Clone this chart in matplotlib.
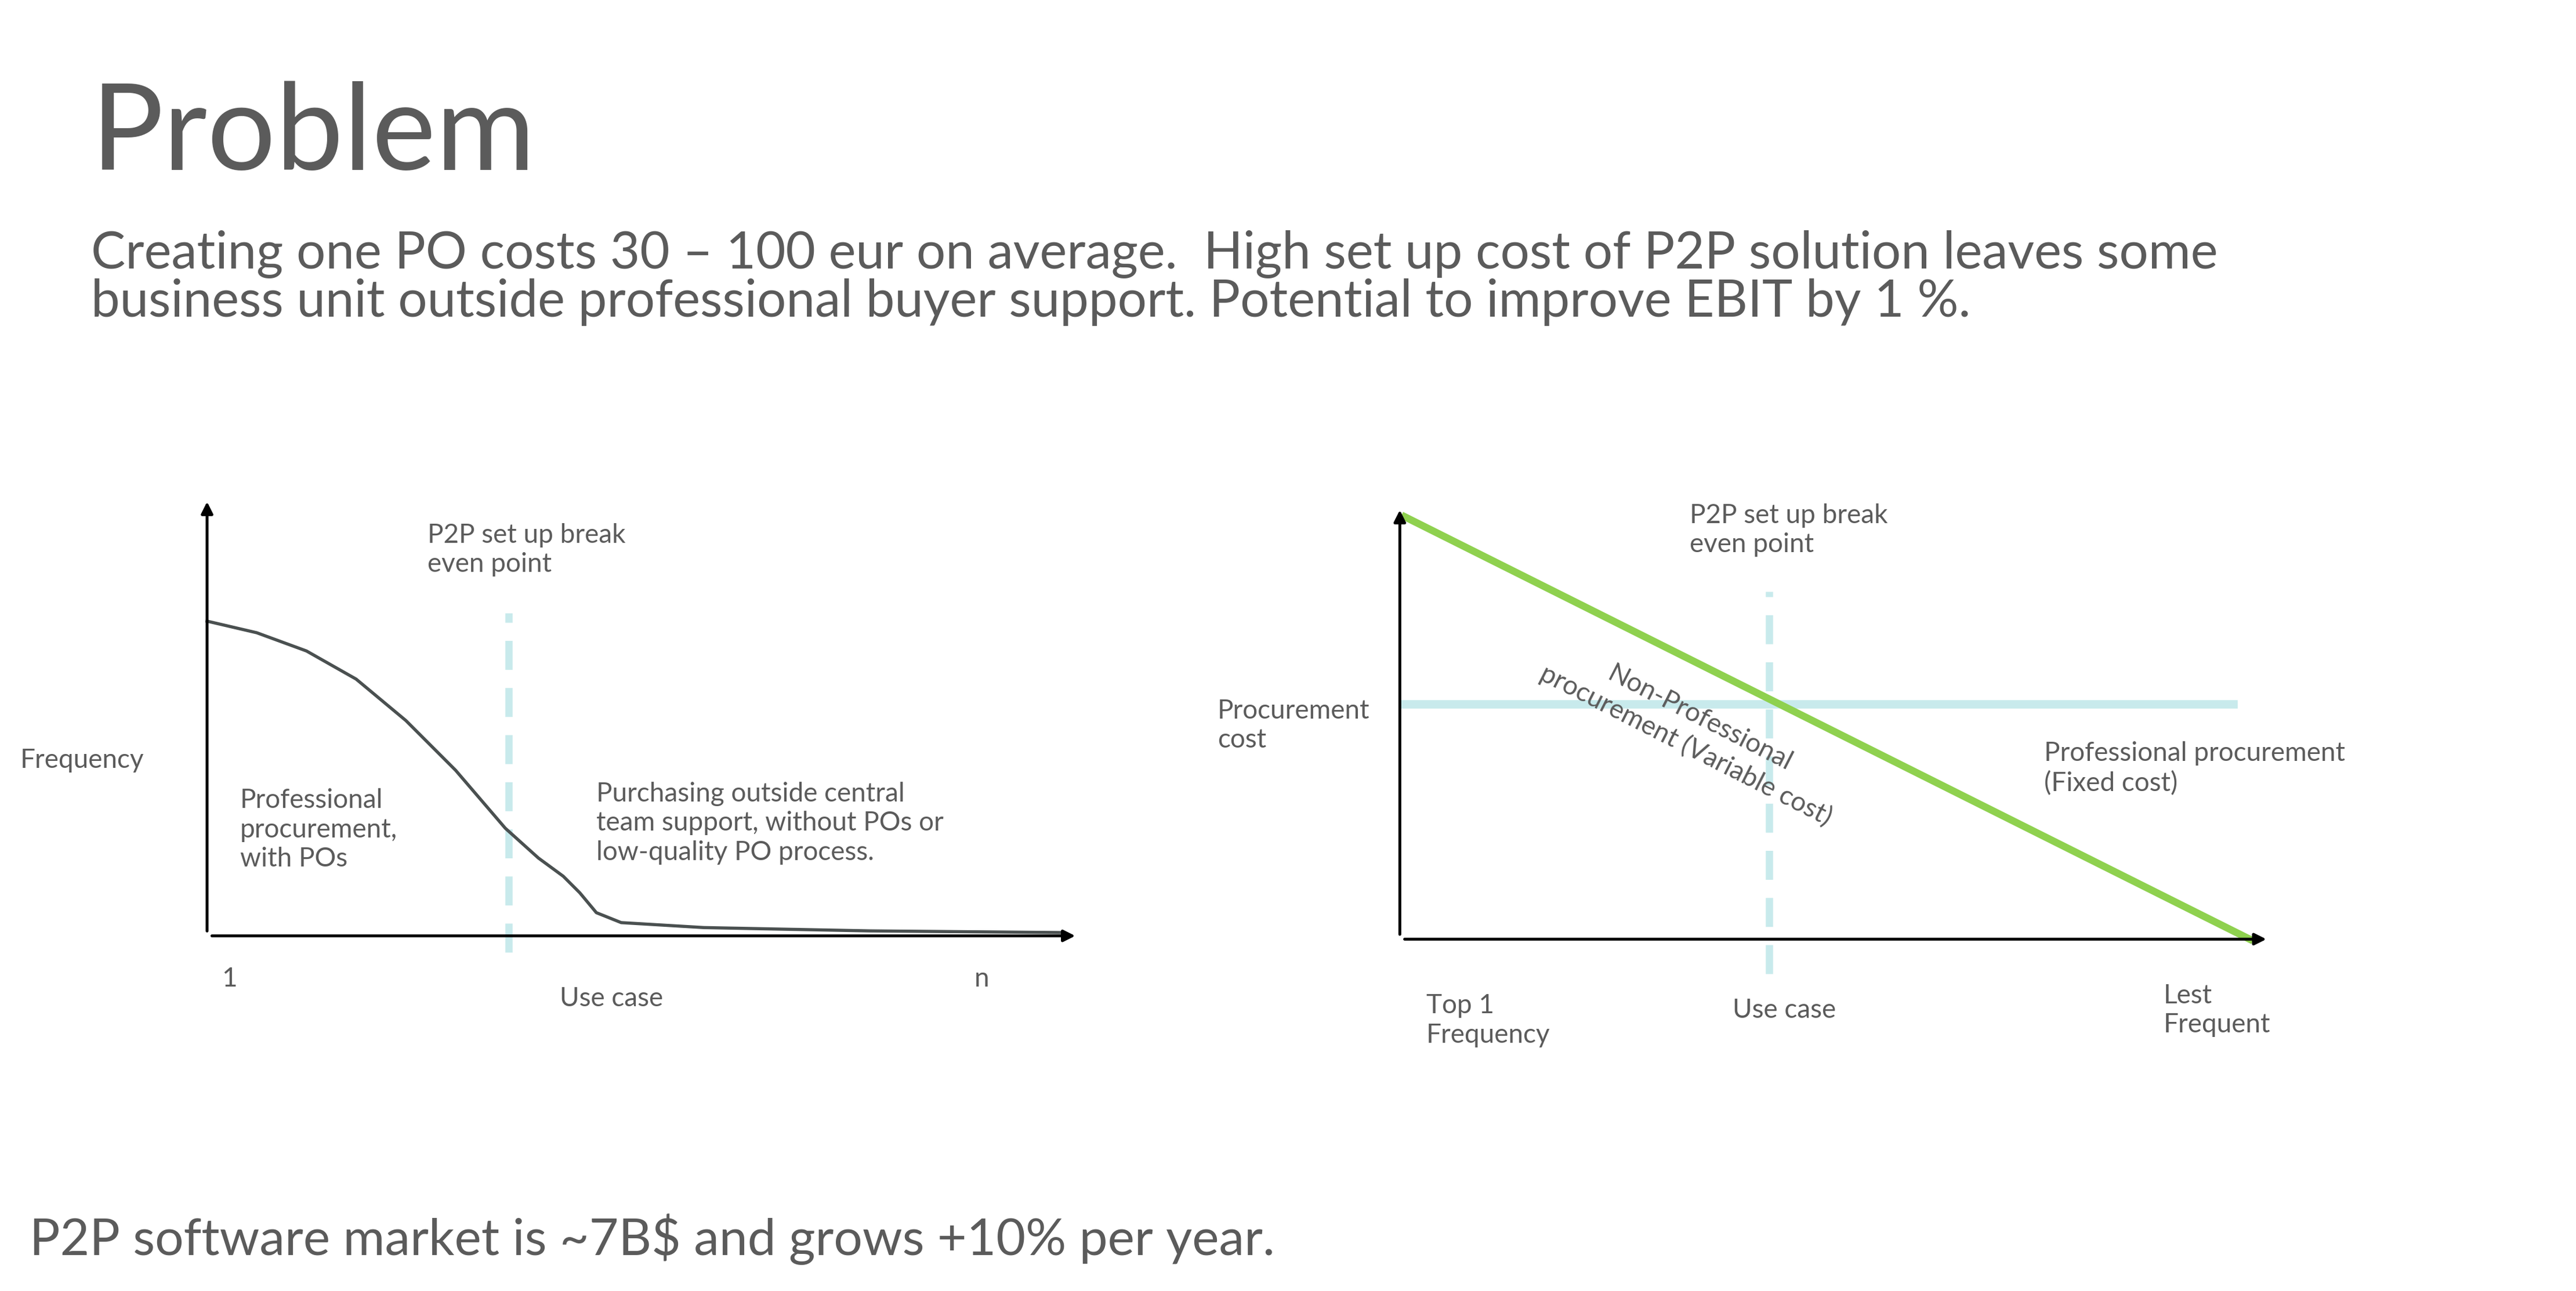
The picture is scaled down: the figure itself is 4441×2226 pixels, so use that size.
import matplotlib.pyplot as plt

plt.rcParams['font.family'] = ['Lato', 'DejaVu Sans']

GREY = '#5b5b5b'
DARK = '#4a5050'
CYAN = '#c8eaec'
GREEN = '#8fd14f'

# left chart: frequency of use cases (long tail)
use_case_pos = [0, 30, 60, 90, 120, 150, 180, 200, 215, 225, 235, 250, 300, 400, 515]
frequency = [190, 183, 172, 155, 130, 100, 65, 47, 36, 26, 14, 8, 5, 3, 2]
left_break_even = 182

# right chart: cost lines
variable_x = [3, 513]
variable_cost = [255, 0]
fixed_x = [3, 503]
fixed_cost = [142, 142]
right_break_even = 223

W, H = 1555, 779.4
fig = plt.figure(figsize=(4441 / 300, 2226 / 300), dpi=300)
bg = fig.add_axes([0, 0, 1, 1])
bg.set_xlim(0, W)
bg.set_ylim(H, 0)
bg.axis('off')
bg.set_zorder(10)
bg.patch.set_alpha(0)


def add_chart(x0, y0, w, h):
    ax = fig.add_axes([x0 / W, 1 - y0 / H, w / W, h / H])
    ax.set_xlim(0, w)
    ax.set_ylim(0, h)
    ax.axis('off')
    arrow = dict(arrowstyle='-|>', color='black', lw=1.2, mutation_scale=10)
    ax.annotate('', xy=(w, 0), xytext=(0, 0), arrowprops=arrow, annotation_clip=False)
    ax.annotate('', xy=(0, h), xytext=(0, 0), arrowprops=arrow, annotation_clip=False)
    return ax


ax1 = add_chart(125, 565, 527, 265)
ax1.plot([left_break_even] * 2, [-10, 195], color=CYAN, lw=3, ls=(0, (4, 2.5)), clip_on=False)
ax1.plot(use_case_pos, frequency, color=DARK, lw=1.3, clip_on=False)

ax2 = add_chart(845, 567, 526, 262)
ax2.plot(fixed_x, fixed_cost, color=CYAN, lw=3.5, clip_on=False)
ax2.plot([right_break_even] * 2, [-21, 210], color=CYAN, lw=3, ls=(0, (4, 2.5)), clip_on=False)
ax2.plot(variable_x, variable_cost, color=GREEN, lw=3, clip_on=False)

# headings
bg.text(55, 82, 'Problem', fontsize=50, color=GREY, va='center')
bg.text(55, 168, 'Creating one PO costs 30 – 100 eur on average.  High set up cost of P2P solution leaves some\n'
        'business unit outside professional buyer support. Potential to improve EBIT by 1 %.',
        fontsize=21.3, color=GREY, va='center', linespacing=1.0)
bg.text(18, 748, 'P2P software market is ~7B$ and grows +10% per year.', fontsize=21, color=GREY, va='center')

small = dict(fontsize=11, color=GREY, va='center', linespacing=1.25)
bg.text(12, 459, 'Frequency', **small)
bg.text(258, 332, 'P2P set up break\neven point', **small)
bg.text(145, 501, 'Professional\nprocurement,\nwith POs', **small)
bg.text(360, 497, 'Purchasing outside central\nteam support, without POs or\nlow-quality PO process.', **small)
bg.text(134, 591, '1', **small)
bg.text(338, 603, 'Use case', **small)
bg.text(588, 591, 'n', **small)

bg.text(735, 438, 'Procurement\ncost', **small)
bg.text(1020, 320, 'P2P set up break\neven point', **small)
bg.text(1022, 442, 'Non-Professional\nprocurement (Variable cost)', fontsize=11, color=GREY,
        ha='center', va='center', rotation=-27, rotation_mode='anchor', linespacing=1.25)
bg.text(1234, 464, 'Professional procurement\n(Fixed cost)', **small)
bg.text(861, 616, 'Top 1\nFrequency', **small)
bg.text(1046, 610, 'Use case', **small)
bg.text(1306, 610, 'Lest\nFrequent', **small)

fig.savefig('out.png', dpi=300, facecolor='white')
